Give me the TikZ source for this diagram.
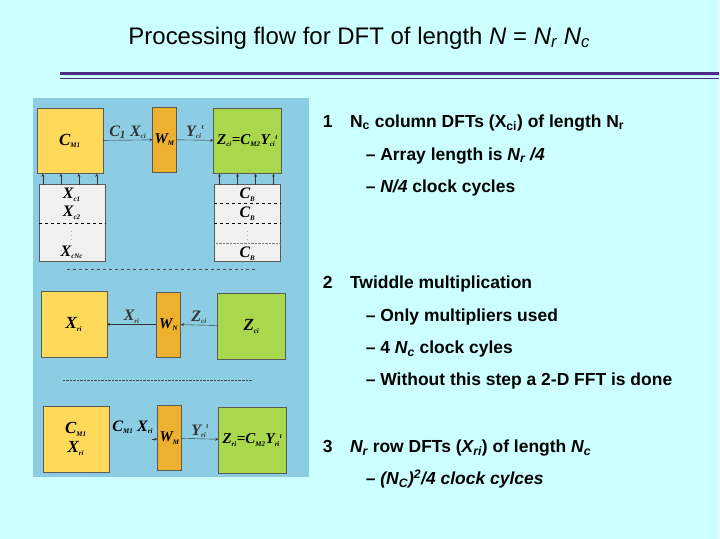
\documentclass[tikz,border=0pt]{standalone}
\usepackage{fontspec}
\setmainfont{Liberation Sans}
\newfontfamily\tms{Liberation Serif}
\definecolor{bgc}{HTML}{CCFFFF}
\definecolor{pan}{HTML}{8DCDE3}
\definecolor{yel}{HTML}{FFD95A}
\definecolor{org}{HTML}{EDB12F}
\definecolor{grn}{HTML}{A9D84D}
\definecolor{gry}{HTML}{F0F0F0}
\definecolor{pur}{HTML}{4B2E83}
\begin{document}
\begin{tikzpicture}[x=1pt,y=-1pt,
  yb/.style={draw=gray!70!black,fill=yel,minimum width=66pt,minimum height=66pt,font=\tms\bfseries\itshape\fontsize{17}{19}\selectfont},
  ob/.style={draw=gray!70!black,fill=org,minimum width=24pt,minimum height=65pt,font=\tms\bfseries\itshape\fontsize{15}{17}\selectfont,inner sep=0pt},
  gb/.style={draw=gray!70!black,fill=grn,minimum width=68pt,minimum height=66pt,font=\tms\bfseries\itshape\fontsize{15}{17}\selectfont,inner sep=0pt},
  grb/.style={draw=gray!70!black,fill=gry,minimum width=66pt,minimum height=77pt},
  lab/.style={font=\tms\bfseries\itshape\fontsize{16}{18}\selectfont,inner sep=1pt},
  ar/.style={->,>=stealth,black!80},
  txt/.style={anchor=west,font=\bfseries\fontsize{17.5}{20}\selectfont},
  sub/.style={anchor=west,font=\bfseries\fontsize{17.5}{20}\selectfont}]
\fill[bgc] (0,0) rectangle (720,540);
\node[font=\fontsize{24}{28}\selectfont] (title) at (360,38) {Processing flow for DFT of length \textit{N} = \textit{N\textsubscript{r} N\textsubscript{c}}};
\draw[pur,line width=3pt] (60,74) -- (720,74);
\draw[pur,line width=0.6pt] (60,78.5) -- (720,78.5);
\fill[pan] (33,98) rectangle (310,478);
% top row
\node[yb] (cm1) at (70,141) {C\textsubscript{\scriptsize M1}};
\node[ob] (wm1) at (165,140) {W\textsubscript{\scriptsize M}};
\node[gb] (z1) at (248,141) {Z\textsubscript{\scriptsize ci}=C\textsubscript{\scriptsize M2}Y\textsubscript{\scriptsize ci}\textsuperscript{\scriptsize t}};
\draw[ar] (cm1) -- node[lab,above] {C\textsubscript{1} X\textsubscript{\scriptsize ci}} (wm1);
\draw[ar] (wm1) -- node[lab,above] {Y\textsubscript{\scriptsize ci}\textsuperscript{\scriptsize t}} (z1);
\node[grb] (xg) at (72,223) {};
\node[grb] (cg) at (248,223) {};
\draw[dashed] (xg.west|-0,224) -- (xg.east|-0,224);
\draw[dashed] (cg.west|-0,204) -- (cg.east|-0,204);
\draw[dashed] (cg.west|-0,224) -- (cg.east|-0,224);
\draw[densely dotted,gray] (cg.west|-0,244) -- (cg.east|-0,244);
\node[lab] (x1) at (72,195) {X\textsubscript{\scriptsize c1}};
\node[lab] (x2) at (72,213) {X\textsubscript{\scriptsize c2}};
\node[font=\tiny,inner sep=0pt] (xd) at (72,234) {$\vdots$};
\node[lab] (xn) at (72,253) {X\textsubscript{\scriptsize cNc}};
\node[lab] (c1) at (248,195) {C\textsubscript{\scriptsize B}};
\node[lab] (c2) at (248,214) {C\textsubscript{\scriptsize B}};
\node[font=\tiny,inner sep=0pt] (cd) at (248,234) {$\vdots$};
\node[lab] (cn) at (248,254) {C\textsubscript{\scriptsize B}};
\foreach \i/\xx in {1/43,2/61,3/79,4/97}{
  \coordinate (xa\i) at (\xx,185); \draw[ar] (xa\i) -- (\xx,174);}
\foreach \i/\xx in {1/220,2/238,3/256,4/274}{
  \coordinate (ca\i) at (\xx,185); \draw[ar] (ca\i) -- (\xx,174);}
\draw[dashed,black!70] (67,270) -- (256,270);
% middle row
\node[yb] (y2) at (74,325) {X\textsubscript{\scriptsize ri}};
\node[ob] (w2) at (169,325) {W\textsubscript{\scriptsize N}};
\node[gb] (g2) at (252,327) {\fontsize{17}{19}\selectfont Z\textsubscript{\scriptsize ci}};
\draw[ar] (g2) -- node[lab,above] {Z\textsubscript{\scriptsize ci}} (w2);
\draw[ar] (w2) -- node[lab,above] {X\textsubscript{\scriptsize ri}} (y2);
\draw[densely dotted,black!70] (63,381) -- (253,381);
% bottom row
\node[yb,align=center] (y3) at (76,440) {C\textsubscript{\scriptsize M1}\\X\textsubscript{\scriptsize ri}};
\node[ob] (w3) at (170,439) {W\textsubscript{\scriptsize M}};
\node[gb] (g3) at (253,441) {Z\textsubscript{\scriptsize ri}=C\textsubscript{\scriptsize M2}Y\textsubscript{\scriptsize ri}\textsuperscript{\scriptsize t}};
\node[lab] (l3) at (133,428) {C\textsubscript{\scriptsize M1} X\textsubscript{\scriptsize ri}};
\coordinate (s3) at (152,440);
\draw[ar] (s3) -- (w3.west|-s3);
\draw[ar] (w3) -- node[lab,above] {Y\textsubscript{\scriptsize ri}\textsuperscript{\scriptsize t}} (g3);
% text
\node[txt] (t1) at (320,123) {1\quad N\textsubscript{c} column DFTs (X\textsubscript{ci}) of length N\textsubscript{r}};
\node[sub] (t1a) at (363,156) {– Array length is \textit{N\textsubscript{r} /4}};
\node[sub] (t1b) at (363,188) {– \textit{N/4} clock cycles};
\node[txt] (t2) at (320,285) {2\quad Twiddle multiplication};
\node[sub] (t2a) at (363,318) {– Only multipliers used};
\node[sub] (t2b) at (363,350) {– 4 \textit{N\textsubscript{c}} clock cyles};
\node[sub] (t2c) at (363,382) {– Without this step a 2-D FFT is done};
\node[txt] (t3) at (320,449) {3\quad \textit{N\textsubscript{r}} row DFTs (\textit{X\textsubscript{ri}}) of length \textit{N\textsubscript{c}}};
\node[sub] (t3a) at (363,480) {– \textit{(N\textsubscript{C})\textsuperscript{2}/4 clock cylces}};
\end{tikzpicture}
\end{document}
